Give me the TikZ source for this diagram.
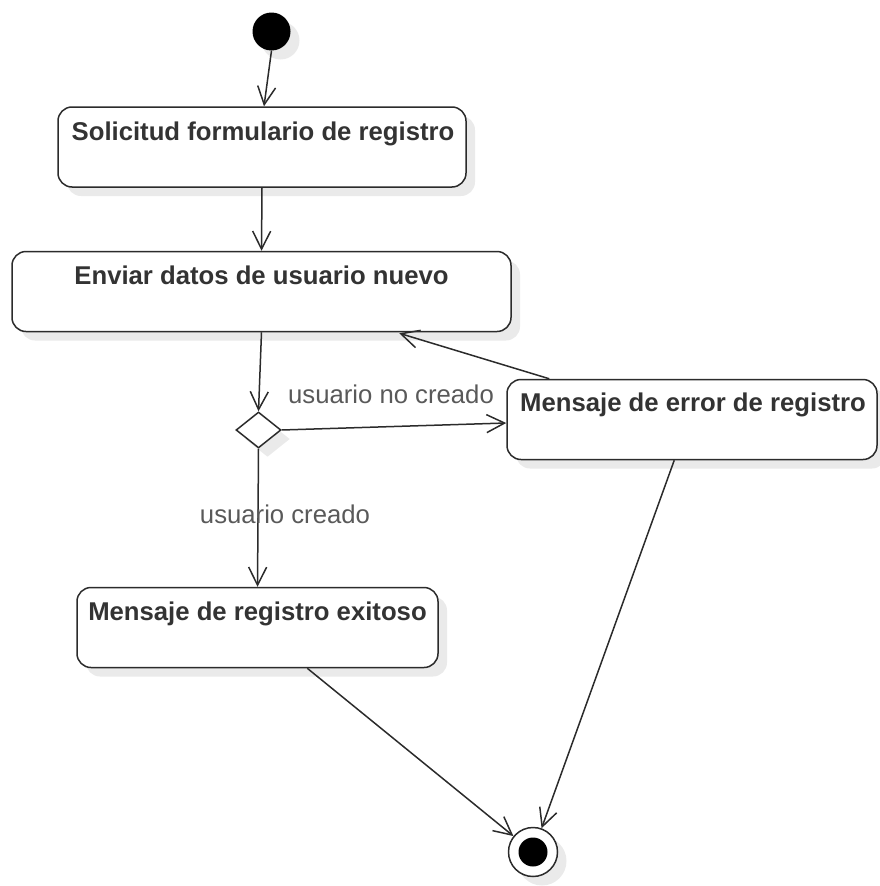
\documentclass[tikz,border=0pt]{standalone}
\usepackage{fontspec}
\setmainfont{Liberation Sans}
\usetikzlibrary{arrows.meta,shapes.geometric,shadows,calc}
\definecolor{inkline}{HTML}{2B2B2B}
\definecolor{boxtext}{HTML}{333333}
\definecolor{guardtext}{HTML}{595959}
\definecolor{shadowgray}{HTML}{EAEAEA}
\begin{document}
\begin{tikzpicture}[x=1pt,y=-1pt,
  softshadow/.style={drop shadow={shadow xshift=9pt,shadow yshift=-9pt,fill=shadowgray,opacity=1}},
  action/.style={draw=inkline,line width=1.5pt,fill=white,rounded corners=14pt,
    minimum height=80pt,inner sep=0pt,softshadow},
  actlabel/.style={anchor=base,text=boxtext,font=\fontsize{25.7}{30}\selectfont\bfseries,inner sep=0pt},
  guard/.style={anchor=base,text=guardtext,font=\fontsize{25.7}{30}\selectfont,inner sep=0pt},
  flow/.style={draw=inkline,line width=1.5pt,-{Straight Barb[length=18pt,width=18pt,line width=1.5pt]}},
  decision/.style={diamond,draw=inkline,line width=1.5pt,fill=white,inner sep=0pt,
    minimum width=45pt,minimum height=36pt,softshadow}
]
\useasboundingbox (0,0) rectangle (879,886);

% initial and final states
\node[circle,fill=black,minimum size=38pt,inner sep=0pt,softshadow] (start) at (271.5,31.5) {};
\node[circle,draw=inkline,line width=1.5pt,fill=white,minimum size=49pt,inner sep=0pt,softshadow] (end) at (533,852) {};
\fill[black] (end.center) circle (14.5pt);

% actions
\node[action,minimum width=408pt] (b1) at (262,147) {};
\node[actlabel] (t1) at ($(b1.north)+(1,34)$) {Solicitud formulario de registro};

\node[action,minimum width=499pt] (b2) at (261.5,291.5) {};
\node[actlabel] (t2) at ($(b2.north)+(0,34)$) {Enviar datos de usuario nuevo};

\node[action,minimum width=370pt] (b3) at (692,419.5) {};
\node[actlabel] (t3) at ($(b3.north)+(1,33)$) {Mensaje de error de registro};

\node[action,minimum width=361pt] (b4) at (257.5,627.5) {};
\node[actlabel] (t4) at ($(b4.north)+(0,34)$) {Mensaje de registro exitoso};

% decision
\node[decision] (d) at (258.5,430) {};

% control flows
\draw[flow] (start.south) -- ($(b1.north)+(2,0)$);
\draw[flow] (b1.south) -- (b2.north);
\draw[flow] (b2.south) -- (d.north);
\draw[flow] (d.east) -- ($(b3.west)+(0,3.5)$);
\draw[flow] ($(b3.north west)+(43,0)$) -- ($(b2.south west)+(388,1)$);
\draw[flow] (d.south) -- (b4.north);
\draw[flow] ($(b4.south west)+(231,0)$) -- (end);
\draw[flow] ($(b3.south west)+(168,0)$) -- (end);

% guards
\node[guard] (g1) at (391,403) {usuario no creado};
\node[guard] (g2) at (285,523) {usuario creado};
\end{tikzpicture}
\end{document}
